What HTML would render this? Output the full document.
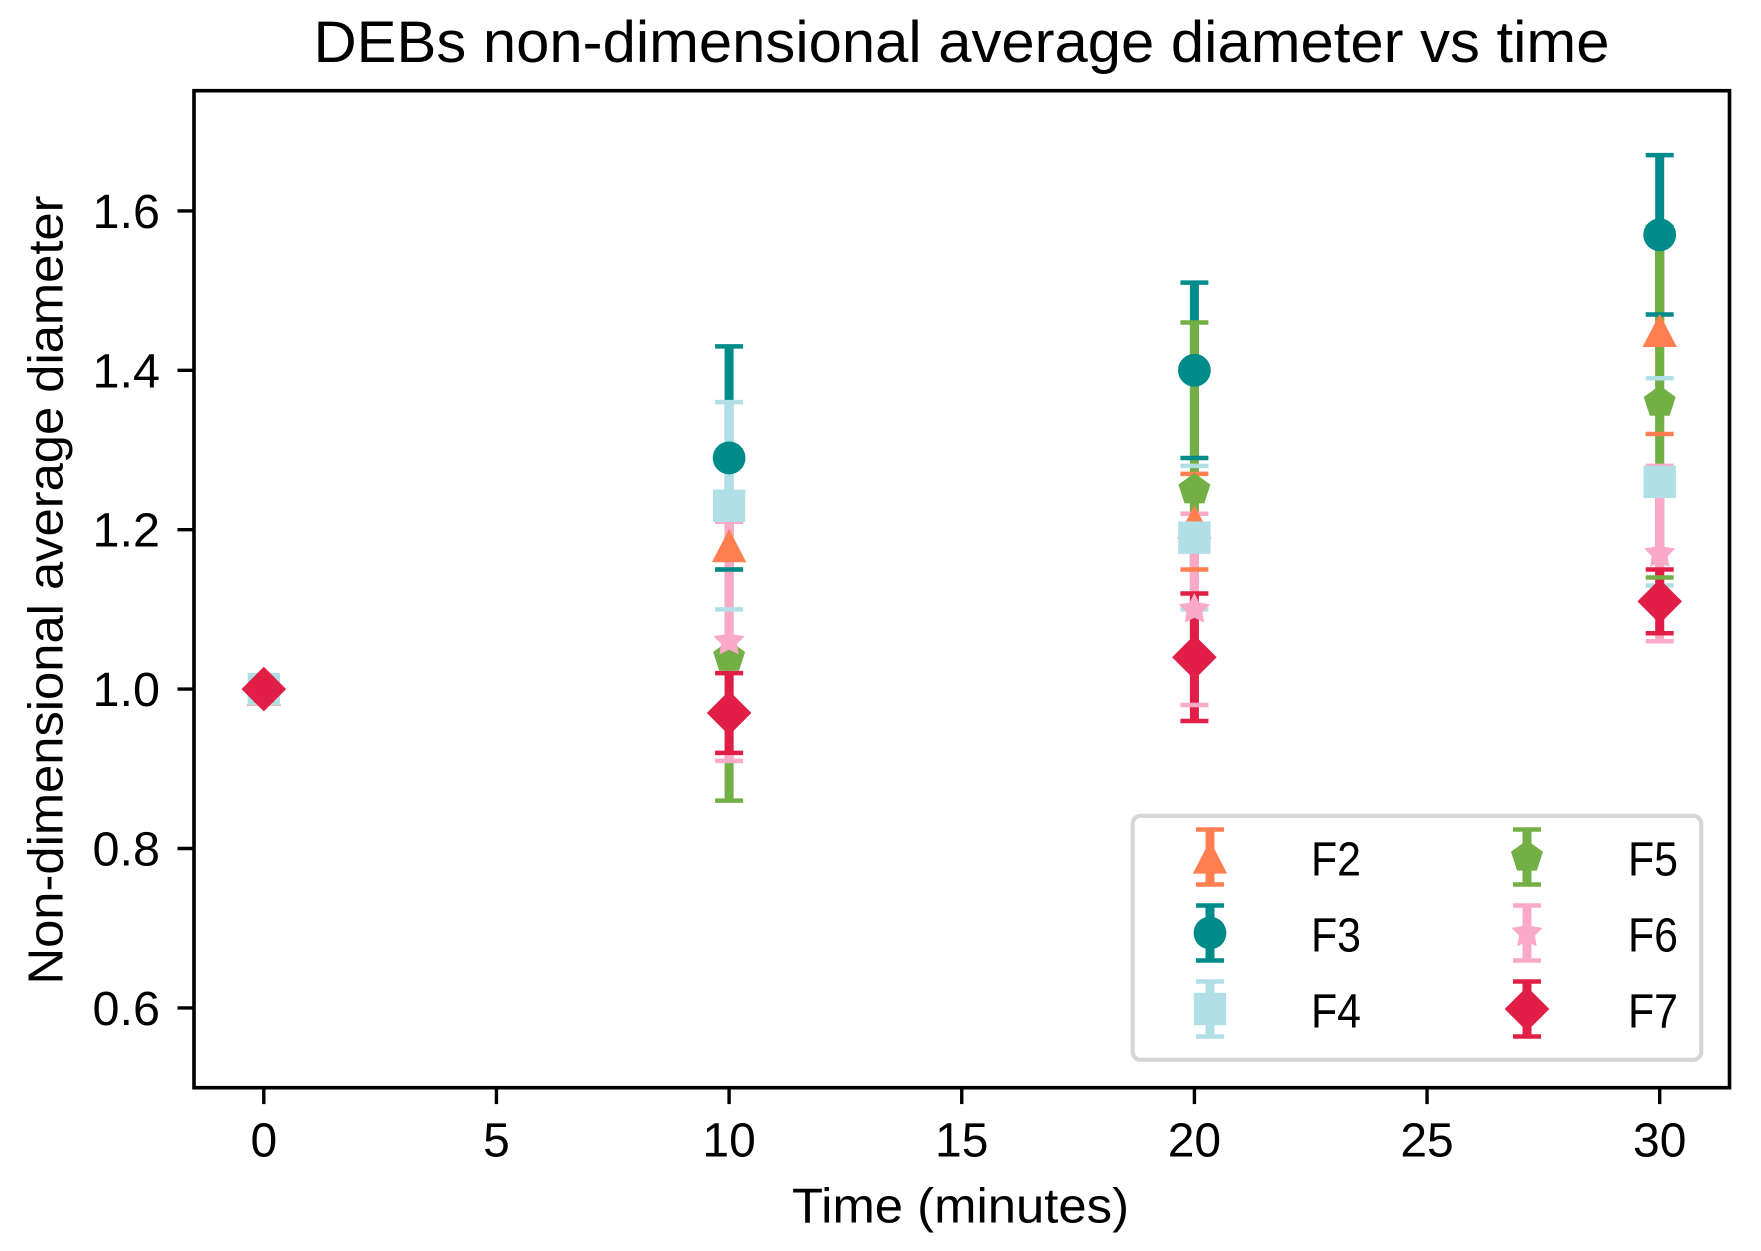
<!DOCTYPE html>
<html lang="en">
<head>
<meta charset="utf-8">
<title>DEBs non-dimensional average diameter vs time</title>
<style>
html,body{margin:0;padding:0;background:#fff;}
svg{display:block;}
text{font-family:"Liberation Sans",sans-serif;fill:#000;}
</style>
</head>
<body>
<svg id="chart" xmlns="http://www.w3.org/2000/svg" width="1761" height="1251" viewBox="0 0 1761 1251">
<rect x="0" y="0" width="1761" height="1251" fill="#ffffff"/>
<text x="961.5" y="62" font-size="58" text-anchor="middle" textLength="1296" lengthAdjust="spacingAndGlyphs">DEBs non-dimensional average diameter vs time</text>
<text x="960.5" y="1222.7" font-size="49" text-anchor="middle" textLength="337" lengthAdjust="spacingAndGlyphs">Time (minutes)</text>
<text x="0" y="0" transform="translate(62.7 590) rotate(-90)" font-size="49" text-anchor="middle" textLength="789" lengthAdjust="spacingAndGlyphs">Non-dimensional average diameter</text>
<g id="ticks"></g>
<g id="bars"></g>
<g id="caps"></g>
<g id="markers"></g>
<rect x="194" y="90.7" width="1535.5" height="997" fill="none" stroke="#000" stroke-width="3.6"/>
<g id="legend"></g>
</svg>
<script>
const times = [0, 10, 20, 30];
const seriesNames = ['F2', 'F3', 'F4', 'F5', 'F6', 'F7'];
const meanF2 = [1.00, 1.18, 1.21, 1.45];
const meanF3 = [1.00, 1.29, 1.40, 1.57];
const meanF4 = [1.00, 1.23, 1.19, 1.26];
const meanF5 = [1.00, 1.04, 1.25, 1.36];
const meanF6 = [1.00, 1.06, 1.10, 1.17];
const meanF7 = [1.00, 0.97, 1.04, 1.11];
const errF2 = [0, 0.03, 0.06, 0.13];
const errF3 = [0, 0.14, 0.11, 0.10];
const errF4 = [0, 0.13, 0.09, 0.13];
const errF5 = [0, 0.18, 0.21, 0.22];
const errF6 = [0, 0.15, 0.12, 0.11];
const errF7 = [0, 0.05, 0.08, 0.04];
const xTickLabels = ['0', '5', '10', '15', '20', '25', '30'];
const yTickLabels = ['0.6', '0.8', '1.0', '1.2', '1.4', '1.6'];

const NS = 'http://www.w3.org/2000/svg';
const colors = {F2:'#FF7F50', F3:'#008B8B', F4:'#B0E0E6', F5:'#72AF44', F6:'#FAA9C8', F7:'#E01E46'};
const shapes = {F2:'triangle', F3:'circle', F4:'square', F5:'pentagon', F6:'star', F7:'diamond'};
const means = {F2:meanF2, F3:meanF3, F4:meanF4, F5:meanF5, F6:meanF6, F7:meanF7};
const errs = {F2:errF2, F3:errF3, F4:errF4, F5:errF5, F6:errF6, F7:errF7};

const PLOT = {left:194, right:1729.5, top:90.7, bottom:1087.6};
const X_MIN = -1.5, X_MAX = 31.5, Y_MIN = 0.5, Y_MAX = 1.7508;
function xScale(v){ return PLOT.left + (v - X_MIN) / (X_MAX - X_MIN) * (PLOT.right - PLOT.left); }
function yScale(v){ return PLOT.bottom - (v - Y_MIN) / (Y_MAX - Y_MIN) * (PLOT.bottom - PLOT.top); }

function make(tag, attrs, parent){
  const el = document.createElementNS(NS, tag);
  for (const k in attrs) el.setAttribute(k, attrs[k]);
  parent.appendChild(el);
  return el;
}
function polyPoints(cx, cy, pts){
  return pts.map(function(p){ return (cx + p[0]).toFixed(2) + ',' + (cy + p[1]).toFixed(2); }).join(' ');
}
function radial(n, r, r2){
  const out = [];
  const count = r2 ? n * 2 : n;
  for (let i = 0; i < count; i++){
    const a = -Math.PI / 2 + i * 2 * Math.PI / count;
    const rad = (r2 && i % 2) ? r2 : r;
    out.push([rad * Math.cos(a), rad * Math.sin(a)]);
  }
  return out;
}
function drawMarker(shape, cx, cy, color, parent){
  if (shape === 'circle') return make('circle', {cx:cx, cy:cy, r:16.4, fill:color}, parent);
  if (shape === 'square') return make('rect', {x:cx - 16.2, y:cy - 16.2, width:32.4, height:32.4, fill:color}, parent);
  let pts;
  if (shape === 'triangle') pts = [[0, -16.6], [17.2, 16.6], [-17.2, 16.6]];
  if (shape === 'diamond') pts = [[0, -22.3], [22.3, 0], [0, 22.3], [-22.3, 0]];
  if (shape === 'pentagon') pts = radial(5, 16.8);
  if (shape === 'star') pts = radial(5, 16.4, 8.4);
  return make('polygon', {points:polyPoints(cx, cy, pts), fill:color}, parent);
}

const tickG = document.getElementById('ticks');
xTickLabels.forEach(function(label){
  const px = xScale(parseFloat(label));
  const t = make('line', {x1:px, x2:px, y1:PLOT.bottom, y2:PLOT.bottom + 16.5, stroke:'#000', 'stroke-width':3.4}, tickG);
  
  
  const txt = make('text', {x:px, y:1156.7, 'font-size':48, 'text-anchor':'middle'}, tickG);
  
  
  txt.textContent = label;
});
yTickLabels.forEach(function(label){
  const py = yScale(parseFloat(label));
  const t = make('line', {x1:PLOT.left, x2:PLOT.left - 16.5, y1:py, y2:py, stroke:'#000', 'stroke-width':3.4}, tickG);
  
  
  const txt = make('text', {x:160, y:py + 17, 'font-size':48, 'text-anchor':'end', textLength:67.5, lengthAdjust:'spacingAndGlyphs'}, tickG);
  
  
  txt.textContent = label;
});

const barG = document.getElementById('bars');
const capG = document.getElementById('caps');
const markG = document.getElementById('markers');
const CAP_HALF = 14, BAR_W = 9, CAP_W = 4.5;

seriesNames.forEach(function(name){
  times.forEach(function(t, i){
    const px = xScale(t), m = means[name][i], e = errs[name][i];
    const bar = make('line', {x1:px, x2:px, y1:yScale(m + e), y2:yScale(m - e), stroke:colors[name], 'stroke-width':BAR_W}, barG);
    
    
  });
});
seriesNames.forEach(function(name){
  times.forEach(function(t, i){
    const px = xScale(t), m = means[name][i], e = errs[name][i];
    [m + e, m - e].forEach(function(v){
      const cap = make('line', {x1:px - CAP_HALF, x2:px + CAP_HALF, y1:yScale(v), y2:yScale(v), stroke:colors[name], 'stroke-width':CAP_W}, capG);
      
      
    });
  });
});
seriesNames.forEach(function(name){
  times.forEach(function(t, i){
    const mk = drawMarker(shapes[name], xScale(t), yScale(means[name][i]), colors[name], markG);
    
    
  });
});

const legendG = document.getElementById('legend');
const frame = make('rect', {x:1132.7, y:815.8, width:568.5, height:244, rx:8, ry:8, fill:'#ffffff', 'fill-opacity':0.9, stroke:'#D6D6D6', 'stroke-width':4.2}, legendG);


seriesNames.forEach(function(name, i){
  const col = Math.floor(i / 3), row = i % 3;
  const hx = 1210 + col * 317, hy = 857 + row * 76;
  const entry = make('g', {}, legendG);
  
  
  make('line', {x1:hx, x2:hx, y1:hy - 27.5, y2:hy + 27.5, stroke:colors[name], 'stroke-width':BAR_W}, entry);
  make('line', {x1:hx - CAP_HALF, x2:hx + CAP_HALF, y1:hy - 27.5, y2:hy - 27.5, stroke:colors[name], 'stroke-width':CAP_W}, entry);
  make('line', {x1:hx - CAP_HALF, x2:hx + CAP_HALF, y1:hy + 27.5, y2:hy + 27.5, stroke:colors[name], 'stroke-width':CAP_W}, entry);
  drawMarker(shapes[name], hx, hy, colors[name], entry);
  const label = make('text', {x:hx + 101, y:hy + 18.3, 'font-size':48, textLength:50, lengthAdjust:'spacingAndGlyphs'}, entry);
  label.textContent = name;
});
</script>
</body>
</html>
